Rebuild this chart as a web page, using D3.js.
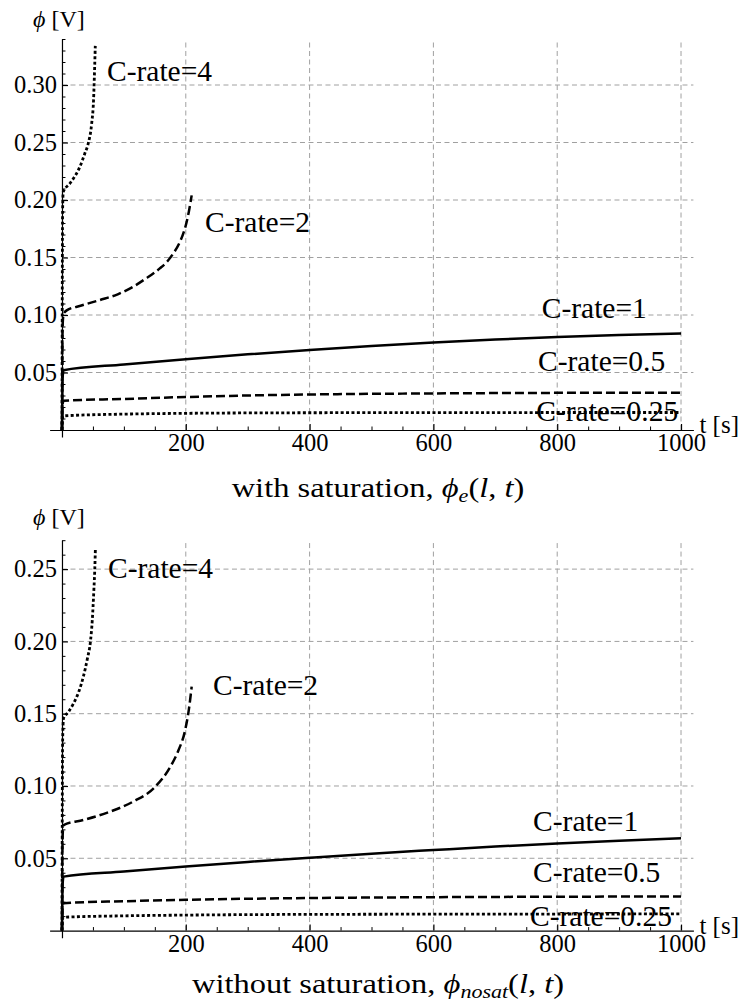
<!DOCTYPE html>
<html>
<head>
<meta charset="utf-8">
<script src="https://cdn.jsdelivr.net/npm/d3@7"></script>
<style>
body { margin: 0; background: #fff; }
svg, text { font-family: "Liberation Serif", "Times New Roman", serif; }
text { fill: #000; }
</style>
</head>
<body>
<div id="chart"></div>
<script>
// shared axis ticks
const xMajorTicks = [200, 400, 600, 800, 1000];
const seriesNames = ["C-rate=4", "C-rate=2", "C-rate=1", "C-rate=0.5", "C-rate=0.25"];

// with saturation, phi_e(l,t)
const satYTicks = [0.05, 0.10, 0.15, 0.20, 0.25, 0.30];
const satC4T = [0, 1, 2, 13, 29, 37, 42.5, 48, 51, 52.8, 53.8];
const satC4V = [0, 0.19, 0.207, 0.2145, 0.229, 0.2406, 0.2493, 0.2667, 0.287, 0.316, 0.334];
const satC2T = [0, 1, 2.6, 7.6, 30, 61, 90, 115, 135, 158, 170, 180, 190, 196, 201, 205, 209.5];
const satC2V = [0, 0.09, 0.101, 0.104, 0.108, 0.113, 0.118, 0.1246, 0.1315, 0.1405, 0.1465, 0.1537, 0.163, 0.171, 0.18, 0.19, 0.204];
const satC1T = [0, 1, 2.5, 100, 200, 300, 400, 500, 600, 700, 800, 900, 1000];
const satC1V = [0, 0.045, 0.052, 0.057, 0.0616, 0.0658, 0.0696, 0.073, 0.076, 0.0786, 0.0808, 0.0826, 0.084];
const satC05T = [0, 1, 2.5, 100, 200, 300, 400, 600, 800, 1000];
const satC05V = [0, 0.022, 0.0255, 0.027, 0.0287, 0.03, 0.0309, 0.0318, 0.0323, 0.0325];
const satC025T = [0, 1, 2.5, 100, 200, 400, 600, 800, 1000];
const satC025V = [0, 0.011, 0.0123, 0.0138, 0.0145, 0.015, 0.0151, 0.0152, 0.0152];

// without saturation, phi_nosat(l,t)
const nosatYTicks = [0.05, 0.10, 0.15, 0.20, 0.25];
const nosatC4T = [0, 1, 2.5, 10, 18.5, 27, 34.5, 41, 46, 49, 51.5, 53, 54];
const nosatC4V = [0, 0.13, 0.1468, 0.151, 0.157, 0.165, 0.1756, 0.188, 0.2, 0.215, 0.2355, 0.25, 0.2644];
const nosatC2T = [0, 1, 2.5, 34.5, 77.5, 115, 148, 175, 188, 199, 205, 209.5];
const nosatC2V = [0, 0.065, 0.073, 0.0765, 0.0822, 0.0892, 0.0984, 0.1133, 0.1245, 0.1387, 0.153, 0.1687];
const nosatC1T = [0, 1, 2.5, 100, 200, 300, 400, 500, 600, 700, 800, 900, 1000];
const nosatC1V = [0, 0.032, 0.0373, 0.0409, 0.0443, 0.0475, 0.0504, 0.0532, 0.0557, 0.0581, 0.0602, 0.0621, 0.0638];
const nosatC05T = [0, 1, 2.5, 100, 200, 400, 600, 800, 1000];
const nosatC05V = [0, 0.016, 0.0189, 0.0203, 0.0213, 0.0225, 0.0231, 0.0234, 0.0236];
const nosatC025T = [0, 1, 2.5, 100, 200, 400, 1000];
const nosatC025V = [0, 0.008, 0.0092, 0.0102, 0.0107, 0.0112, 0.0115];

const zip = (ts, vs) => ts.map((t, i) => [t, vs[i]]);

let svg = d3.select("#chart")
    .append("svg")
    .attr("width", 745)
    .attr("height", 1006)
    .attr("font-family", "Liberation Serif");

svg.append("rect").attr("width", 745).attr("height", 1006).attr("fill", "#fff");

// line style per series (dotted / dashed / solid)
const dashFor = ["3,2.4", "9,4", null, "9,4", "3,2.4"];
const widthFor = [2.8, 2.5, 2.5, 2.5, 2.8];

let x = d3.scaleLinear().domain([-20, 1020]).range([49.6, 693.4]);

let panels = [
    {
        yDomain: [-0.006, 0.34], yRange: [436.9, 39], yTicks: satYTicks,
        series: [zip(satC4T, satC4V), zip(satC2T, satC2V), zip(satC1T, satC1V), zip(satC05T, satC05V), zip(satC025T, satC025V)],
        // label anchors in data units (t, phi)
        labelAt: [[72.7, 0.3035], [231, 0.1722], [775, 0.0978], [769, 0.0513], [766, 0.0078]],
        caption: ["with saturation, ", "e"], captionY: 497, yLabelY: 27
    },
    {
        yDomain: [-0.005, 0.27], yRange: [937.8, 540.2], yTicks: nosatYTicks,
        series: [zip(nosatC4T, nosatC4V), zip(nosatC2T, nosatC2V), zip(nosatC1T, nosatC1V), zip(nosatC05T, nosatC05V), zip(nosatC025T, nosatC025V)],
        labelAt: [[74.3, 0.2442], [244, 0.163], [761, 0.0689], [761, 0.0336], [756, 0.0032]],
        caption: ["without saturation, ", "nosat"], captionY: 993, yLabelY: 525
    }
];

panels.forEach(p => drawPanel(p));

function drawPanel(p) {
    let y = d3.scaleLinear().domain(p.yDomain).range(p.yRange);
    let yMax = p.yDomain[1];
    let g = svg.append("g");

    // grid
    g.selectAll(".vgrid").data(xMajorTicks).enter().append("line")
        .attr("x1", d => x(d)).attr("x2", d => x(d))
        .attr("y1", y(0)).attr("y2", y(yMax))
        .attr("stroke", "#a0a0a0").attr("stroke-width", 1).attr("stroke-dasharray", "5,3.5");
    g.selectAll(".hgrid").data(p.yTicks).enter().append("line")
        .attr("x1", x(0)).attr("x2", x(1020))
        .attr("y1", d => y(d)).attr("y2", d => y(d))
        .attr("stroke", "#a0a0a0").attr("stroke-width", 1).attr("stroke-dasharray", "5,3.5");

    // minor ticks
    let xMinor = d3.range(50, 1001, 50).filter(d => d % 200 != 0);
    let yMinor = d3.range(1, Math.floor(yMax * 100) + 1).map(d => d / 100).filter(d => Math.round(d * 100) % 5 != 0);

    g.append("g").attr("transform", `translate(0,${y(0)})`)
        .call(d3.axisBottom(x).tickValues(xMinor).tickSize(-3.5).tickSizeOuter(0).tickFormat(""))
        .call(a => a.select(".domain").remove());
    g.append("g").attr("transform", `translate(${x(0)},0)`)
        .call(d3.axisLeft(y).tickValues(yMinor).tickSize(-3.5).tickSizeOuter(0).tickFormat(""))
        .call(a => a.select(".domain").remove());

    // main axes
    let xAxis = g.append("g").attr("transform", `translate(0,${y(0)})`)
        .call(d3.axisBottom(x).tickValues(xMajorTicks).tickSize(-6).tickSizeOuter(0).tickPadding(4).tickFormat(d3.format("d")));
    let yAxis = g.append("g").attr("transform", `translate(${x(0)},0)`)
        .call(d3.axisLeft(y).tickValues(p.yTicks).tickSize(-6).tickSizeOuter(0).tickPadding(5).tickFormat(d3.format(".2f")));

    [xAxis, yAxis].forEach(a => {
        a.attr("font-family", "Liberation Serif").attr("font-size", null);
        a.selectAll("line, .domain").attr("stroke", "#000").attr("stroke-width", 1.2);
        a.selectAll("text").style("font-size", "24.5px");
    });

    // curves
    let line = d3.line()
        .x(d => x(d[0]))
        .y(d => y(d[1]))
        .curve(d3.curveMonotoneX);

    g.selectAll(".curve").data(p.series).enter().append("path")
        .attr("d", line)
        .attr("fill", "none")
        .attr("stroke", "#000")
        .attr("stroke-width", (d, i) => widthFor[i])
        .attr("stroke-dasharray", (d, i) => dashFor[i]);

    // series labels
    g.selectAll(".lab").data(p.labelAt).enter().append("text")
        .attr("x", d => x(d[0]))
        .attr("y", d => y(d[1]))
        .style("font-size", "29.5px")
        .text((d, i) => seriesNames[i]);

    // axis titles
    let yl = g.append("text").attr("x", 33).attr("y", p.yLabelY).style("font-size", "24px");
    yl.append("tspan").attr("font-style", "italic").text("\u03D5");
    yl.append("tspan").text(" [V]");

    g.append("text").attr("x", x(1020) + 6).attr("y", y(0) + 3)
        .style("font-size", "25px").text("t [s]");

    // caption
    let cap = g.append("text")
        .attr("transform", `translate(378,${p.captionY}) scale(1.16,1)`)
        .attr("text-anchor", "middle")
        .style("font-size", "28px");
    cap.append("tspan").text(p.caption[0]);
    cap.append("tspan").attr("font-style", "italic").text("\u03D5");
    cap.append("tspan").attr("font-style", "italic").attr("dy", 5).style("font-size", "19px").text(p.caption[1]);
    cap.append("tspan").attr("dy", -5).text("(");
    cap.append("tspan").attr("font-style", "italic").text("l");
    cap.append("tspan").text(", ");
    cap.append("tspan").attr("font-style", "italic").text("t");
    cap.append("tspan").text(")");
}
</script>
</body>
</html>
